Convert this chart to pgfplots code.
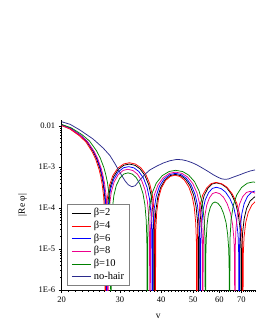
\documentclass[border=0pt]{standalone}
\usepackage{fontspec}
\setmainfont{Liberation Serif}
\usepackage{pgfplots}
\pgfplotsset{compat=1.18}
\definecolor{navyline}{rgb}{0.17,0.17,0.55}
\definecolor{dgreen}{rgb}{0,0.5,0}
\begin{document}
\begin{tikzpicture}
\path (-61.7pt,-40pt) rectangle (193.3pt,290pt);
\begin{axis}[
 at={(0pt,0pt)}, anchor=south west,
 scale only axis, width=193.3pt, height=170pt,
 xmode=log, ymode=log,
 xmin=20, xmax=77, ymin=1e-6, ymax=0.014,
 axis x line*=bottom, axis y line*=left,
 axis line style={line width=0.6pt},
 tick align=outside,
 xtick={20,30,40,50,60,70}, xticklabels={20,30,40,50,60,70},
 minor xtick={21,22,23,24,25,26,27,28,29,31,32,33,34,35,36,37,38,39,41,42,43,44,45,46,47,48,49,51,52,53,54,55,56,57,58,59,61,62,63,64,65,66,67,68,69,71,72,73,74,75,76,77},
 ytick={1e-6,1e-5,1e-4,1e-3,1e-2}, yticklabels={1E-6,1E-5,1E-4,1E-3,0.01},
 minor ytick={2e-6,3e-6,4e-6,5e-6,6e-6,7e-6,8e-6,9e-6,2e-5,3e-5,4e-5,5e-5,6e-5,7e-5,8e-5,9e-5,2e-4,3e-4,4e-4,5e-4,6e-4,7e-4,8e-4,9e-4,2e-3,3e-3,4e-3,5e-3,6e-3,7e-3,8e-3,9e-3},
 major tick length=3pt, minor tick length=1.6pt,
 every tick/.style={black, line width=0.5pt},
 ticklabel style={font=\fontsize{8.5}{10}\selectfont},
 xlabel={v}, ylabel={|Re φ|},
 label style={font=\fontsize{9.5}{11}\selectfont},
 xlabel style={at={(axis description cs:0.5,-0.153)}, anchor=center},
 ylabel style={at={(axis description cs:-0.2017,0.5)}, anchor=center},
 legend style={at={(0.029,0.506)}, anchor=north west, draw=gray, fill=white,
   font=\fontsize{10.5}{12}\selectfont, row sep=0.7pt, column sep=1.5pt,
   inner xsep=4pt, inner ysep=3pt,
   nodes={inner sep=1pt, text height=7.5pt, text depth=2.5pt}},
 legend cell align=left,
 legend image code/.code={\draw[#1] (0pt,0pt) -- (19pt,0pt);},
 every axis plot/.append style={line width=0.75pt},
]
\addplot[black] coordinates {
(20,1.06e-2)(21.2,8.8e-3)(22.7,6.0e-3)(23.8,4.2e-3)(24.9,2.4e-3)(25.5,1.6e-3)(26.1,9.3e-4)(26.4,6.4e-4)(26.7,4.0e-4)(27.0,1.9e-4)(27.2,6e-5)(27.3,1e-9)
(27.408,0.48e-4)(27.624,1.45e-4)(28.056,3.27e-4)(28.704,5.75e-4)(29.676,8.73e-4)(30.864,11.06e-4)(32.052,11.8e-4)(33.348,10.99e-4)(34.536,9.02e-4)(35.724,6.24e-4)(36.696,3.68e-4)(37.344,1.96e-4)(37.776,0.83e-4)(37.992,0.27e-4)(38.1,1e-9)
(38.239,0.27e-4)(38.517,0.81e-4)(39.073,1.83e-4)(39.907,3.21e-4)(41.158,4.88e-4)(42.687,6.18e-4)(44.216,6.6e-4)(45.884,6.14e-4)(47.413,5.04e-4)(48.942,3.49e-4)(50.193,2.06e-4)(51.027,1.10e-4)(51.583,0.46e-4)(51.861,0.15e-4)(52.0,1e-9)
(52.18,0.17e-4)(52.54,0.50e-4)(53.08,1.14e-4)(53.98,2.00e-4)(55.42,3.03e-4)(57.04,3.84e-4)(58.84,4.1e-4)(61.0,3.82e-4)(63.16,3.13e-4)(65.32,2.17e-4)(67.3,1.28e-4)(68.56,0.68e-4)(69.46,0.29e-4)(69.82,0.09e-4)(70.0,1e-9)
(70.2,0.082e-4)(70.6,0.246e-4)(71.4,0.554e-4)(72.6,0.974e-4)(74.4,1.48e-4)(77,1.90e-4)
};
\addlegendentry{β=2}
\addplot[red] coordinates {
(20,1.02e-2)(21.167,8.47e-3)(22.626,5.77e-3)(23.696,4.04e-3)(24.766,2.31e-3)(25.349,1.54e-3)(25.933,8.95e-4)(26.225,6.16e-4)(26.516,3.85e-4)(26.808,1.83e-4)(27.003,5.8e-5)(27.1,1e-9)
(27.213,0.52e-4)(27.439,1.56e-4)(27.891,3.52e-4)(28.569,6.18e-4)(29.586,9.40e-4)(30.829,11.9e-4)(32.072,12.7e-4)(33.428,11.8e-4)(34.671,9.70e-4)(35.914,6.72e-4)(36.931,3.96e-4)(37.609,2.11e-4)(38.061,0.89e-4)(38.287,0.29e-4)(38.4,1e-9)
(38.529,0.26e-4)(38.787,0.77e-4)(39.303,1.75e-4)(40.077,3.07e-4)(41.238,4.66e-4)(42.657,5.90e-4)(44.076,6.3e-4)(45.624,5.87e-4)(47.043,4.81e-4)(48.462,3.33e-4)(49.623,1.97e-4)(50.397,1.05e-4)(50.913,0.44e-4)(51.171,0.14e-4)(51.3,1e-9)
(51.494,0.17e-4)(51.882,0.52e-4)(52.464,1.16e-4)(53.434,2.05e-4)(54.986,3.11e-4)(56.732,3.94e-4)(58.672,4.2e-4)(61.0,3.91e-4)(63.328,3.21e-4)(65.656,2.22e-4)(67.79,1.31e-4)(69.148,0.70e-4)(70.118,0.29e-4)(70.506,0.10e-4)(70.7,1e-9)
(70.91,0.066e-4)(71.33,0.197e-4)(72.17,0.443e-4)(73.43,0.779e-4)(75.32,1.18e-4)(77,1.42e-4)
};
\addlegendentry{β=4}
\addplot[blue] coordinates {
(20,1.08e-2)(21.216,8.97e-3)(22.737,6.11e-3)(23.852,4.28e-3)(24.967,2.45e-3)(25.575,1.63e-3)(26.184,9.48e-4)(26.488,6.52e-4)(26.792,4.08e-4)(27.096,1.94e-4)(27.299,6.1e-5)(27.4,1e-9)
(27.502,0.42e-4)(27.706,1.25e-4)(28.114,2.83e-4)(28.726,4.97e-4)(29.644,7.55e-4)(30.766,9.56e-4)(31.888,10.2e-4)(33.112,9.50e-4)(34.234,7.79e-4)(35.356,5.40e-4)(36.274,3.18e-4)(36.886,1.69e-4)(37.294,0.71e-4)(37.498,0.23e-4)(37.6,1e-9)
(37.75,0.29e-4)(38.05,0.86e-4)(38.65,1.94e-4)(39.55,3.41e-4)(40.9,5.18e-4)(42.55,6.56e-4)(44.2,7.0e-4)(46.0,6.52e-4)(47.65,5.35e-4)(49.3,3.70e-4)(50.65,2.18e-4)(51.55,1.16e-4)(52.15,0.49e-4)(52.45,0.16e-4)(52.6,1e-9)
(52.763,0.13e-4)(53.089,0.39e-4)(53.578,0.89e-4)(54.393,1.56e-4)(55.697,2.37e-4)(57.164,3.00e-4)(58.794,3.2e-4)(60.75,2.98e-4)(62.706,2.44e-4)(64.662,1.69e-4)(66.455,1.00e-4)(67.596,0.53e-4)(68.411,0.22e-4)(68.737,0.07e-4)(68.9,1e-9)
(69.09,0.107e-4)(69.47,0.320e-4)(70.23,0.720e-4)(71.37,1.27e-4)(73.08,1.92e-4)(75.17,2.44e-4)(77,2.6e-4)
};
\addlegendentry{β=6}
\addplot[magenta] coordinates {
(20,1.04e-2)(21.249,8.63e-3)(22.811,5.89e-3)(23.956,4.12e-3)(25.101,2.35e-3)(25.726,1.57e-3)(26.351,9.12e-4)(26.663,6.28e-4)(26.975,3.92e-4)(27.288,1.86e-4)(27.496,5.9e-5)(27.6,1e-9)
(27.694,0.36e-4)(27.882,1.08e-4)(28.258,2.44e-4)(28.822,4.29e-4)(29.668,6.51e-4)(30.702,8.25e-4)(31.736,8.8e-4)(32.864,8.19e-4)(33.898,6.72e-4)(34.932,4.66e-4)(35.778,2.75e-4)(36.342,1.46e-4)(36.718,0.62e-4)(36.906,0.20e-4)(37.0,1e-9)
(37.165,0.31e-4)(37.495,0.92e-4)(38.155,2.08e-4)(39.145,3.65e-4)(40.63,5.55e-4)(42.445,7.03e-4)(44.26,7.5e-4)(46.24,6.98e-4)(48.055,5.73e-4)(49.87,3.97e-4)(51.355,2.34e-4)(52.345,1.25e-4)(53.005,0.53e-4)(53.335,0.17e-4)(53.5,1e-9)
(53.634,0.10e-4)(53.902,0.30e-4)(54.304,0.66e-4)(54.974,1.17e-4)(56.046,1.78e-4)(57.252,2.25e-4)(58.592,2.4e-4)(60.2,2.23e-4)(61.808,1.83e-4)(63.416,1.27e-4)(64.89,0.75e-4)(65.828,0.40e-4)(66.498,0.17e-4)(66.766,0.06e-4)(66.9,1e-9)
(67.07,0.105e-4)(67.41,0.314e-4)(68.09,0.706e-4)(69.11,1.24e-4)(70.64,1.89e-4)(72.51,2.39e-4)(74.38,2.55e-4)(76.42,2.37e-4)(77,2.30e-4)
};
\addlegendentry{β=8}
\addplot[dgreen] coordinates {
(20,1.09e-2)(21.348,9.05e-3)(23.033,6.17e-3)(24.269,4.32e-3)(25.504,2.47e-3)(26.178,1.64e-3)(26.852,9.56e-4)(27.189,6.58e-4)(27.526,4.11e-4)(27.863,1.95e-4)(28.088,6.2e-5)(28.2,1e-9)
(28.281,0.30e-4)(28.443,0.89e-4)(28.767,1.99e-4)(29.253,3.51e-4)(29.982,5.33e-4)(30.873,6.75e-4)(31.764,7.2e-4)(32.736,6.70e-4)(33.627,5.50e-4)(34.518,3.81e-4)(35.247,2.25e-4)(35.733,1.20e-4)(36.057,0.50e-4)(36.219,0.17e-4)(36.3,1e-9)
(36.482,0.34e-4)(36.846,1.02e-4)(37.574,2.30e-4)(38.666,4.04e-4)(40.304,6.14e-4)(42.306,7.78e-4)(44.308,8.3e-4)(46.492,7.73e-4)(48.494,6.34e-4)(50.496,4.39e-4)(52.134,2.59e-4)(53.226,1.38e-4)(53.954,0.58e-4)(54.318,0.19e-4)(54.5,1e-9)
(54.599,0.06e-4)(54.797,0.17e-4)(55.094,0.39e-4)(55.589,0.68e-4)(56.381,1.04e-4)(57.272,1.31e-4)(58.262,1.4e-4)(59.45,1.30e-4)(60.638,1.07e-4)(61.826,0.74e-4)(62.915,0.44e-4)(63.608,0.23e-4)(64.103,0.10e-4)(64.301,0.03e-4)(64.4,1e-9)
(64.66,0.176e-4)(65.18,0.529e-4)(66.22,1.19e-4)(67.78,2.09e-4)(70.12,3.18e-4)(72.98,4.03e-4)(75.84,4.3e-4)(77,4.26e-4)
};
\addlegendentry{β=10}
\addplot[navyline] coordinates {
(20,1.27e-2)(21.2,1.1e-2)(22.7,8.0e-3)(24.9,4.8e-3)(26.7,2.9e-3)(28.0,1.9e-3)(29.0,1.2e-3)(29.7,8.5e-4)(30.4,6.2e-4)(31.1,4.6e-4)(31.8,3.7e-4)(32.6,3.3e-4)(33.4,3.5e-4)(34.6,5.0e-4)(36.0,7.0e-4)(37.0,8.5e-4)(38.8,1.05e-3)(40.6,1.25e-3)(42.5,1.42e-3)(44.6,1.53e-3)(46.3,1.5e-3)(47.9,1.41e-3)(49.7,1.27e-3)(51.4,1.12e-3)(53.5,9.3e-4)(55.5,7.8e-4)(57.5,6.5e-4)(59.5,5.6e-4)(61.0,5.15e-4)(62.5,5.0e-4)(64.0,5.1e-4)(65.5,5.5e-4)(67.5,6.0e-4)(69.4,6.5e-4)(72.0,7.3e-4)(74.5,8.0e-4)(77,8.5e-4)
};
\addlegendentry{no-hair}
\end{axis}
\end{tikzpicture}
\end{document}
